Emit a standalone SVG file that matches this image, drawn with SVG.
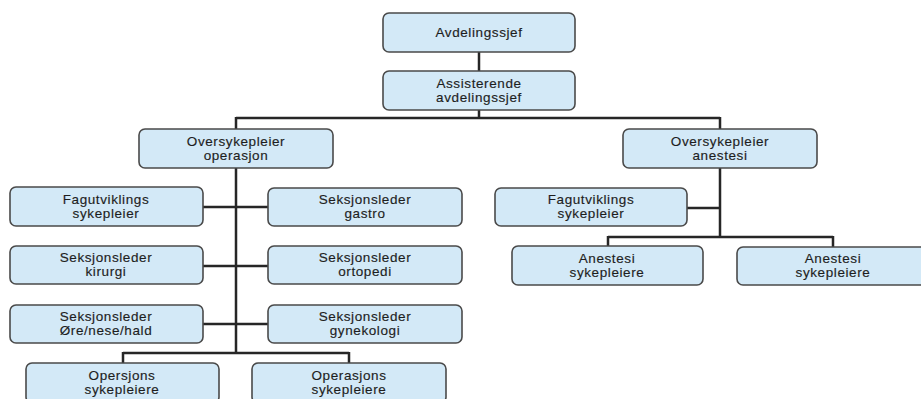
<svg xmlns="http://www.w3.org/2000/svg" width="921" height="399" viewBox="0 0 921 399">
<style>
.box{fill:#d3e9f7;stroke:#4a4a4a;stroke-width:1.6}
.t{font-family:"Liberation Sans",Arial,sans-serif;font-size:13.5px;letter-spacing:0.6px;fill:#1e1e1e;text-anchor:middle;stroke:#1e1e1e;stroke-width:0.15}
.c{fill:none;stroke:#262626;stroke-width:2.5}
</style>
<rect width="921" height="399" fill="#fff"/>
<g id="connectors" class="c">
<path d="M479 52V71"/>
<path d="M479 110V118M236 118H720M236 117V129M720 117V129"/>
<path d="M236 168V353M203 207H268M203 266H268M203 324H268M123 353H349M123 352V363M349 352V363"/>
<path d="M720 168V237M687 208H720M608 237H833M608 236V246M833 236V247"/>
</g>
<g id="n1"><rect class="box" x="383" y="13" width="192" height="39" rx="6"/><text class="t" x="479" y="37">Avdelingssjef</text></g>
<g id="n2"><rect class="box" x="383" y="71" width="192" height="39" rx="6"/><text class="t" x="479" y="88">Assisterende</text><text class="t" x="479" y="102">avdelingssjef</text></g>
<g id="n3"><rect class="box" x="139" y="129" width="194" height="39" rx="6"/><text class="t" x="236" y="146">Oversykepleier</text><text class="t" x="236" y="160">operasjon</text></g>
<g id="n4"><rect class="box" x="623" y="129" width="194" height="39" rx="6"/><text class="t" x="720" y="146">Oversykepleier</text><text class="t" x="720" y="160">anestesi</text></g>
<g id="n5"><rect class="box" x="10" y="187" width="193" height="39" rx="6"/><text class="t" x="106" y="204">Fagutviklings</text><text class="t" x="106" y="218">sykepleier</text></g>
<g id="n6"><rect class="box" x="268" y="188" width="194" height="38" rx="6"/><text class="t" x="365" y="204">Seksjonsleder</text><text class="t" x="365" y="218">gastro</text></g>
<g id="n7"><rect class="box" x="10" y="246" width="193" height="38" rx="6"/><text class="t" x="106" y="262">Seksjonsleder</text><text class="t" x="106" y="276">kirurgi</text></g>
<g id="n8"><rect class="box" x="268" y="246" width="194" height="38" rx="6"/><text class="t" x="365" y="262">Seksjonsleder</text><text class="t" x="365" y="276">ortopedi</text></g>
<g id="n9"><rect class="box" x="10" y="305" width="193" height="38" rx="6"/><text class="t" x="106" y="321">Seksjonsleder</text><text class="t" x="106" y="335">Øre/nese/hald</text></g>
<g id="n10"><rect class="box" x="268" y="305" width="194" height="38" rx="6"/><text class="t" x="365" y="321">Seksjonsleder</text><text class="t" x="365" y="335">gynekologi</text></g>
<g id="n11"><rect class="box" x="26" y="363" width="193" height="40" rx="6"/><text class="t" x="122" y="380">Opersjons</text><text class="t" x="122" y="394">sykepleiere</text></g>
<g id="n12"><rect class="box" x="252" y="363" width="194" height="40" rx="6"/><text class="t" x="349" y="380">Operasjons</text><text class="t" x="349" y="394">sykepleiere</text></g>
<g id="n13"><rect class="box" x="495" y="188" width="192" height="38" rx="6"/><text class="t" x="591" y="204">Fagutviklings</text><text class="t" x="591" y="218">sykepleier</text></g>
<g id="n14"><rect class="box" x="512" y="246" width="191" height="39" rx="6"/><text class="t" x="607" y="263">Anestesi</text><text class="t" x="607" y="277">sykepleiere</text></g>
<g id="n15"><rect class="box" x="737" y="247" width="192" height="38" rx="6"/><text class="t" x="833" y="263">Anestesi</text><text class="t" x="833" y="277">sykepleiere</text></g>
</svg>
